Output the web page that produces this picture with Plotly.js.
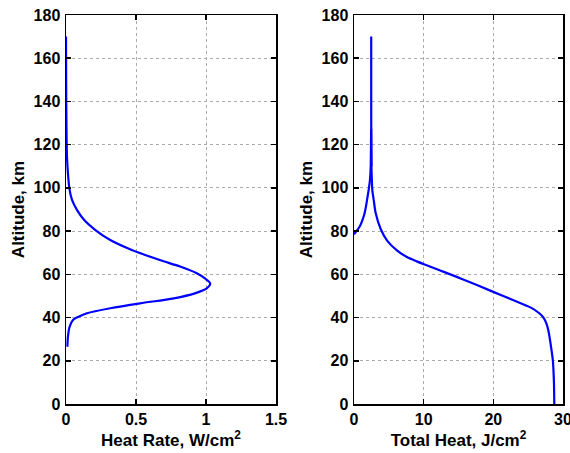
<!DOCTYPE html>
<html><head><meta charset="utf-8">
<script src="https://cdn.plot.ly/plotly-3.0.1.min.js"></script>
<style>body{margin:0;padding:0;background:#fff}#g{width:570px;height:453px}</style>
</head><body><div id="g"></div>
<script>
// Heat rate profile (W/cm^2) vs altitude (km)
const rateAlt = [170, 150, 130, 114.5, 106.7, 99.8, 94.4, 89.8, 85.1, 80.5, 75.9, 71.3, 66.6, 63.6, 60.5, 58.2, 55.8, 53.5, 51.2, 48.9, 46.6, 44.3, 42.0, 40.4, 38.9, 35.8, 31.2, 26.5];
const rateVal = [0, 0.001, 0.003, 0.007, 0.014, 0.024, 0.043, 0.078, 0.13, 0.21, 0.316, 0.47, 0.67, 0.815, 0.934, 0.99, 1.03, 1.005, 0.92, 0.77, 0.53, 0.316, 0.15, 0.09, 0.05, 0.026, 0.014, 0.01];
// Total heat (J/cm^2) vs altitude (km): lower-left branch with spike, and main branch
const heatAltA = [78.5, 80, 82, 85, 88, 92, 97, 100, 104, 110, 120, 127, 118, 110];
const heatValA = [0, 0.35, 0.8, 1.2, 1.5, 1.75, 2.0, 2.15, 2.3, 2.4, 2.44, 2.46, 2.48, 2.5];
const heatAltB = [170, 140, 120, 110, 105, 99, 94, 88.5, 81, 75.5, 71, 68, 66, 64, 62, 58, 52, 48, 44.6, 42, 40, 37, 34, 25, 20, 10, 0];
const heatValB = [2.47, 2.47, 2.48, 2.5, 2.55, 2.63, 2.85, 3.1, 3.83, 4.78, 6.2, 7.6, 9.0, 10.6, 12.2, 15.4, 19.9, 22.9, 25.4, 26.6, 27.2, 27.65, 27.9, 28.35, 28.55, 28.7, 28.75];

const blue = '#0000ff';
const fam = 'Liberation Sans, Arial, Helvetica, sans-serif';
const tf = {family: fam, size: 16, color: '#000', weight: 'bold'};
const af = {family: fam, size: 17, color: '#000', weight: 'bold'};
const ax = (extra) => Object.assign({
  showline: true, mirror: 'ticks', linecolor: '#000', linewidth: 1.5,
  ticks: 'inside', ticklen: 5, tickwidth: 1.5, tickcolor: '#000',
  showgrid: true, gridcolor: '#aaaaaa', griddash: 'dot', gridwidth: 1,
  zeroline: false, tickfont: tf, fixedrange: true, ticklabeloverflow: 'allow'
}, extra);

const data = [
  {x: rateVal, y: rateAlt, xaxis: 'x', yaxis: 'y', mode: 'lines', line: {color: blue, width: 2.2, shape: 'spline', smoothing: 0.8}, showlegend: false},
  {x: heatValA, y: heatAltA, xaxis: 'x2', yaxis: 'y2', mode: 'lines', line: {color: blue, width: 2.2, shape: 'spline', smoothing: 0.5}, showlegend: false},
  {x: heatValB, y: heatAltB, xaxis: 'x2', yaxis: 'y2', mode: 'lines', line: {color: blue, width: 2.2, shape: 'spline', smoothing: 0.7}, showlegend: false}
];

const layout = {
  width: 570, height: 453,
  margin: {l: 0, r: 0, t: 0, b: 0},
  paper_bgcolor: '#fff', plot_bgcolor: '#fff',
  xaxis: ax({domain: [66/570, 276/570], range: [0, 1.5], tickvals: [0, 0.5, 1, 1.5], ticktext: ['0', '0.5', '1', '1.5'], anchor: 'y',
    title: {text: 'Heat Rate, W/cm<sup>2</sup>', font: af, standoff: 2}}),
  yaxis: ax({domain: [49/453, 438/453], range: [0, 180], dtick: 20, anchor: 'x', ticklabelstandoff: 1,
    title: {text: 'Altitude, km', font: af, standoff: 4}}),
  xaxis2: ax({domain: [354/570, 563/570], range: [0, 30], tickvals: [0, 10, 20, 30], anchor: 'y2',
    title: {text: 'Total Heat, J/cm<sup>2</sup>', font: af, standoff: 2}}),
  yaxis2: ax({domain: [49/453, 438/453], range: [0, 180], dtick: 20, anchor: 'x2', ticklabelstandoff: 1,
    title: {text: 'Altitude, km', font: af, standoff: 4}})
};
Plotly.newPlot('g', data, layout, {displayModeBar: false, staticPlot: true});
</script></body></html>
